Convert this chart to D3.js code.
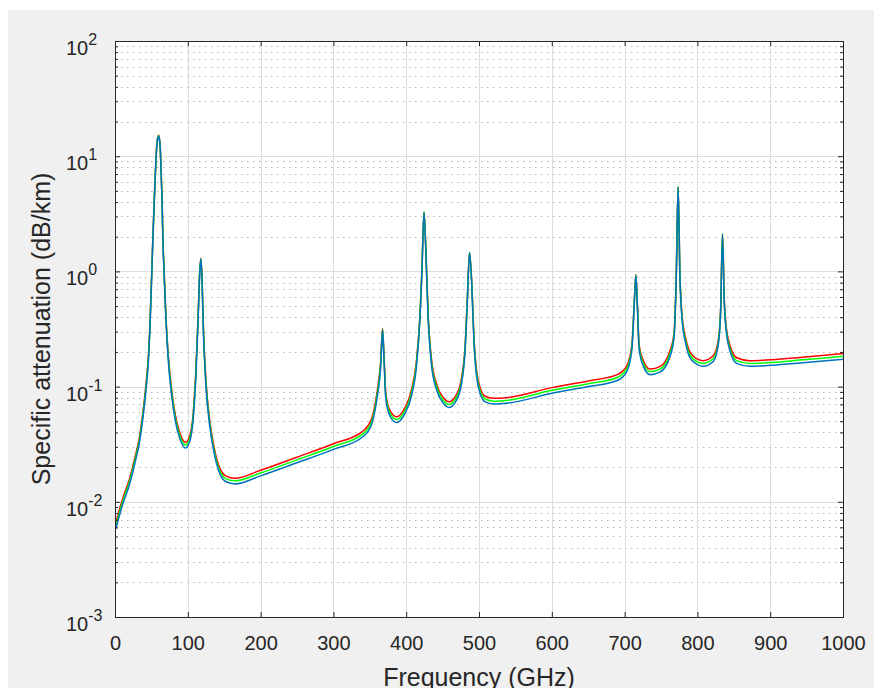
<!DOCTYPE html>
<html>
<head>
<meta charset="utf-8">
<script src="https://cdn.jsdelivr.net/npm/d3@7"></script>
<style>
  body { margin: 0; background: #fff; }
  text { font-family: "Liberation Sans", Arial, Helvetica, sans-serif; fill: #262626; }
</style>
</head>
<body>
<script>
// frequency (GHz) and specific attenuation (dB/km)
var freq = [1, 5, 11, 20, 27, 34, 39, 43, 46, 48, 50, 52, 54, 56, 57.5, 59, 60, 61, 62, 63, 64.5, 66, 67.5, 70, 73, 78, 83, 89, 97,
  103, 107, 111, 114, 116.5, 118, 119.5, 121.5, 125, 130, 137, 144, 152, 165, 200, 250, 300, 340, 352, 360, 365, 367.5, 369.5,
  372, 378, 387, 398, 407, 414, 419, 421.5, 424.5, 427, 430, 435, 442, 451, 459, 469, 476, 481, 484, 487, 490, 493, 499, 508,
  520, 540, 600, 650, 690, 703, 710, 713.5, 715.5, 717.5, 720, 726, 735, 749, 762, 768, 771, 773.5, 776, 779, 784, 792, 808,
  822, 829, 832, 834.5, 837, 842, 854, 872, 902, 941, 1000];

var attenRed = [0.0065, 0.0081, 0.0109, 0.0159, 0.0237, 0.038, 0.065, 0.112, 0.19, 0.342, 0.80, 1.94, 4.26, 8.6, 12.7, 14.8, 15.2, 14.2, 12.4, 8.6, 4.46, 1.74, 1.01, 0.405, 0.195, 0.092, 0.056, 0.0398, 0.0328,
  0.038, 0.055, 0.134, 0.385, 1.04, 1.3, 0.89, 0.31, 0.112, 0.0515, 0.028, 0.0196, 0.0168, 0.0160, 0.0188, 0.0244, 0.0319, 0.0409, 0.0515, 0.090, 0.168, 0.32, 0.19,
  0.087, 0.0616, 0.0547, 0.065, 0.092, 0.166, 0.428, 0.99, 3.28, 1.54, 0.44, 0.168, 0.104, 0.080, 0.0739, 0.0851, 0.119, 0.23, 0.59, 1.46, 0.82, 0.273, 0.112, 0.0829,
  0.0791, 0.0806, 0.098, 0.112, 0.127, 0.151, 0.23, 0.58, 0.94, 0.53, 0.23, 0.167, 0.142, 0.150, 0.202, 0.295, 0.94, 5.42, 0.94, 0.41, 0.262, 0.19, 0.168,
  0.186, 0.262, 0.49, 2.11, 0.55, 0.264, 0.178, 0.168, 0.171, 0.179, 0.194];

var attenGreen = [0.0061, 0.0076, 0.0103, 0.0151, 0.0225, 0.036, 0.0615, 0.106, 0.18, 0.331, 0.776, 1.92, 4.23, 8.55, 12.6, 14.7, 15.1, 14.1, 12.3, 8.55, 4.43, 1.72, 0.98, 0.393, 0.185, 0.087, 0.053, 0.0376, 0.0311,
  0.036, 0.052, 0.127, 0.372, 1.02, 1.29, 0.87, 0.30, 0.106, 0.0488, 0.0265, 0.0186, 0.0159, 0.0152, 0.0178, 0.0231, 0.0302, 0.0387, 0.0488, 0.085, 0.159, 0.315, 0.18,
  0.083, 0.0583, 0.0517, 0.0615, 0.087, 0.157, 0.414, 0.97, 3.3, 1.52, 0.424, 0.159, 0.0986, 0.0758, 0.070, 0.0806, 0.112, 0.22, 0.575, 1.47, 0.80, 0.262, 0.106, 0.0784,
  0.0748, 0.0763, 0.0928, 0.106, 0.12, 0.143, 0.22, 0.565, 0.93, 0.515, 0.22, 0.158, 0.135, 0.142, 0.191, 0.283, 0.92, 5.45, 0.92, 0.395, 0.248, 0.18, 0.159,
  0.176, 0.25, 0.475, 2.12, 0.535, 0.252, 0.168, 0.159, 0.162, 0.17, 0.183];

var attenBlue = [0.0058, 0.0072, 0.0097, 0.0142, 0.0212, 0.034, 0.058, 0.10, 0.17, 0.32, 0.75, 1.9, 4.2, 8.5, 12.5, 14.6, 15.0, 14.0, 12.2, 8.5, 4.4, 1.7, 0.95, 0.38, 0.175, 0.082, 0.050, 0.0355, 0.0293,
  0.034, 0.049, 0.12, 0.36, 1.0, 1.28, 0.85, 0.29, 0.10, 0.046, 0.025, 0.0175, 0.0150, 0.0143, 0.0168, 0.0218, 0.0285, 0.0365, 0.046, 0.080, 0.15, 0.31, 0.17,
  0.078, 0.055, 0.0488, 0.058, 0.082, 0.148, 0.40, 0.95, 3.25, 1.5, 0.41, 0.15, 0.093, 0.0715, 0.066, 0.076, 0.106, 0.21, 0.56, 1.45, 0.78, 0.25, 0.10, 0.074,
  0.0706, 0.072, 0.0875, 0.100, 0.113, 0.135, 0.21, 0.55, 0.92, 0.50, 0.21, 0.149, 0.127, 0.134, 0.18, 0.27, 0.9, 5.4, 0.9, 0.38, 0.235, 0.170, 0.150,
  0.166, 0.238, 0.46, 2.1, 0.52, 0.24, 0.159, 0.150, 0.153, 0.160, 0.173];

var xTicks = [0, 100, 200, 300, 400, 500, 600, 700, 800, 900, 1000];
var yExponents = [-3, -2, -1, 0, 1, 2];
var series = [
  {name: "red", color: "#ff0000", values: attenRed},
  {name: "green", color: "#00ff00", values: attenGreen},
  {name: "blue", color: "#0072bd", values: attenBlue}
];

var width = 874,
    height = 688,
    axLeft = 115, axTop = 41, axRight = 843, axBottom = 617;

var svg = d3.select("body").append("svg")
    .attr("width", width)
    .attr("height", height);

// figure background
svg.append("rect")
    .attr("x", 8).attr("y", 10)
    .attr("width", width - 8).attr("height", height - 10)
    .attr("fill", "#f0f0f0");

svg.append("rect")
    .attr("x", axLeft).attr("y", axTop)
    .attr("width", axRight - axLeft).attr("height", axBottom - axTop)
    .attr("fill", "#fff");

var x = d3.scaleLinear().domain([0, 1000]).range([axLeft, axRight]);
var y = d3.scaleLog().domain([1e-3, 1e2]).range([axBottom, axTop]);

var minorVals = [];
yExponents.slice(0, -1).forEach(function(e) {
    for (var k = 2; k <= 9; k++) minorVals.push(k * Math.pow(10, e));
});
var majorVals = yExponents.map(function(e) { return Math.pow(10, e); });

// minor grid (dotted)
svg.append("g").selectAll("line")
    .data(minorVals).enter().append("line")
    .attr("x1", axLeft).attr("x2", axRight)
    .attr("y1", function(d) { return Math.round(y(d)) + 0.5; })
    .attr("y2", function(d) { return Math.round(y(d)) + 0.5; })
    .attr("stroke", "#b4b4b4")
    .attr("stroke-dasharray", "1.5,4.5");

// major grid
svg.append("g").selectAll("line")
    .data(majorVals.slice(1, -1)).enter().append("line")
    .attr("x1", axLeft).attr("x2", axRight)
    .attr("y1", function(d) { return Math.round(y(d)) + 0.5; })
    .attr("y2", function(d) { return Math.round(y(d)) + 0.5; })
    .attr("stroke", "#dcdcdc");

svg.append("g").selectAll("line")
    .data(xTicks.slice(1, -1)).enter().append("line")
    .attr("x1", function(d) { return Math.round(x(d)) + 0.5; })
    .attr("x2", function(d) { return Math.round(x(d)) + 0.5; })
    .attr("y1", axTop).attr("y2", axBottom)
    .attr("stroke", "#dcdcdc");

// the curves
var line = d3.line()
    .x(function(d) { return x(d[0]); })
    .y(function(d) { return y(d[1]); })
    .curve(d3.curveMonotoneX);

svg.append("clipPath").attr("id", "clip")
    .append("rect")
    .attr("x", axLeft).attr("y", axTop)
    .attr("width", axRight - axLeft).attr("height", axBottom - axTop);

svg.append("g").attr("clip-path", "url(#clip)")
    .selectAll("path")
    .data(series).enter().append("path")
    .attr("d", function(s) {
        return line(freq.map(function(f, i) { return [f, s.values[i]]; }));
    })
    .attr("fill", "none")
    .attr("stroke", function(s) { return s.color; })
    .attr("stroke-width", 1.5)
    .attr("stroke-linejoin", "round");

// axes
var xAxis = svg.append("g")
    .attr("transform", "translate(0," + axBottom + ")")
    .call(d3.axisBottom(x).tickValues(xTicks).tickSize(-5).tickPadding(19).tickFormat(d3.format("d")));
svg.append("g")
    .attr("transform", "translate(0," + axTop + ")")
    .call(d3.axisTop(x).tickValues(xTicks).tickSize(-5).tickFormat(""));

svg.append("g")
    .attr("transform", "translate(" + axLeft + ",0)")
    .call(d3.axisLeft(y).tickValues(majorVals).tickSize(-5).tickFormat(""));
svg.append("g")
    .attr("transform", "translate(" + axRight + ",0)")
    .call(d3.axisRight(y).tickValues(majorVals).tickSize(-5).tickFormat(""));

svg.append("g")
    .attr("transform", "translate(" + axLeft + ",0)")
    .call(d3.axisLeft(y).tickValues(minorVals).tickSize(-3).tickFormat(""));
svg.append("g")
    .attr("transform", "translate(" + axRight + ",0)")
    .call(d3.axisRight(y).tickValues(minorVals).tickSize(-3).tickFormat(""));

svg.selectAll(".domain").attr("stroke", "#262626");
svg.selectAll(".tick line").attr("stroke", "#262626");
xAxis.selectAll("text").attr("font-size", 20).attr("fill", "#262626")
    .style("font-family", "'Liberation Sans', Arial, sans-serif");

// y tick labels as 10 with a superscript exponent
var yLab = svg.append("g");
yExponents.forEach(function(e) {
    var t = yLab.append("text")
        .attr("x", 66)
        .attr("y", y(Math.pow(10, e)) + 14)
        .attr("font-size", 20);
    t.append("tspan").text("10");
    t.append("tspan").attr("dy", -10).attr("font-size", 16).text(e);
});

// axis labels
svg.append("text")
    .attr("x", (axLeft + axRight) / 2)
    .attr("y", 686)
    .attr("text-anchor", "middle")
    .attr("font-size", 25)
    .text("Frequency (GHz)");

svg.append("text")
    .attr("transform", "translate(50," + ((axTop + axBottom) / 2) + ") rotate(-90)")
    .attr("text-anchor", "middle")
    .attr("font-size", 25)
    .text("Specific attenuation (dB/km)");
</script>
</body>
</html>
